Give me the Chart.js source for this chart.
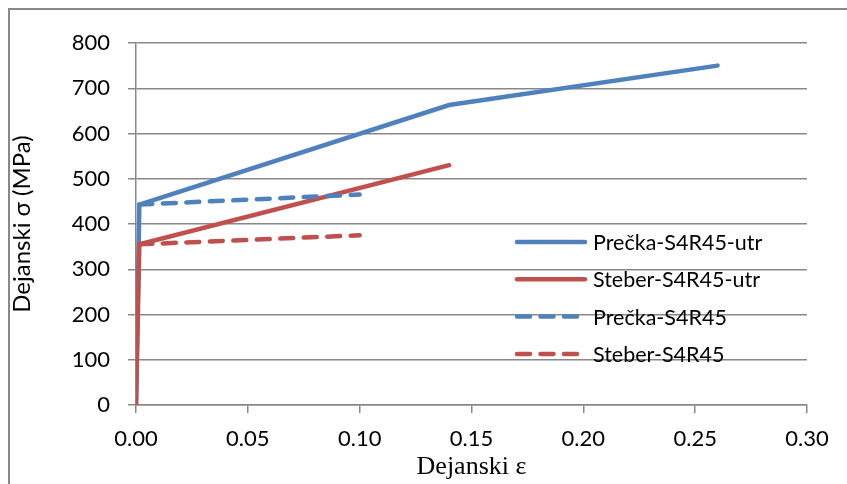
<!DOCTYPE html>
<html>
<head>
  <title>Dejanski σ - ε</title>
  <script src="https://cdn.jsdelivr.net/npm/chart.js"></script>
  <style>
    body { margin: 0; background: #fff; }
    #wrap { width: 847px; height: 484px; }
  </style>
</head>
<body>
  <div id="wrap"><canvas id="myChart" width="847" height="484"></canvas></div>

  <script>
    // podatki (strain, stress)
    const seriesNames = ['Prečka-S4R45-utr', 'Steber-S4R45-utr', 'Prečka-S4R45', 'Steber-S4R45'];
    const prečkaUtrX = [0, 0.0015, 0.14, 0.26];
    const prečkaUtrY = [0, 443, 663, 750];
    const steberUtrX = [0, 0.0015, 0.14];
    const steberUtrY = [0, 355, 530];
    const prečkaX = [0.0015, 0.10];
    const prečkaY = [443, 465];
    const steberX = [0.0015, 0.10];
    const steberY = [355, 375];
    const xTicks = [0, 0.05, 0.10, 0.15, 0.20, 0.25, 0.30];
    const yTicks = [0, 100, 200, 300, 400, 500, 600, 700, 800];

    const blue = '#4F81BD';
    const red = '#C0504D';
    const sans = 'Lato, "Open Sans", sans-serif';

    function pts(xs, ys) {
      return xs.map((x, i) => ({ x: x, y: ys[i] }));
    }

    // okvir + bela podlaga
    const frame = {
      id: 'frame',
      beforeDraw(chart) {
        const c = chart.ctx;
        c.save();
        c.fillStyle = '#fff';
        c.fillRect(0, 0, chart.width, chart.height);
        c.strokeStyle = '#888';
        c.lineWidth = 2;
        c.beginPath();
        c.moveTo(9, chart.height);
        c.lineTo(9, 9);
        c.lineTo(chart.width, 9);
        c.stroke();
        c.restore();
      }
    };

    // legenda znotraj grafa
    const innerLegend = {
      id: 'innerLegend',
      afterDraw(chart) {
        const c = chart.ctx;
        c.save();
        c.font = '21.5px ' + sans;
        c.textBaseline = 'middle';
        c.fillStyle = '#000';
        chart.data.datasets.forEach((ds, i) => {
          const y = 242 + i * 37.3;
          c.strokeStyle = ds.borderColor;
          c.lineWidth = ds.borderWidth;
          c.lineCap = 'round';
          c.setLineDash(ds.borderDash || []);
          c.beginPath();
          c.moveTo(517, y);
          c.lineTo(585, y);
          c.stroke();
          c.setLineDash([]);
          c.fillText(ds.label, 593, y + 1);
        });
        c.restore();
      }
    };

    const ctx = document.getElementById('myChart').getContext('2d');
    const myChart = new Chart(ctx, {
      type: 'line',
      data: {
        datasets: [
          { label: seriesNames[0], data: pts(prečkaUtrX, prečkaUtrY), borderColor: blue, borderWidth: 4.5, order: 3 },
          { label: seriesNames[1], data: pts(steberUtrX, steberUtrY), borderColor: red, borderWidth: 4.5, order: 2 },
          { label: seriesNames[2], data: pts(prečkaX, prečkaY), borderColor: blue, borderWidth: 4.5, borderDash: [13, 10.5], order: 1 },
          { label: seriesNames[3], data: pts(steberX, steberY), borderColor: red, borderWidth: 4.5, borderDash: [13, 10.5], order: 0 }
        ]
      },
      options: {
        responsive: false,
        animation: false,
        events: [],
        elements: {
          point: { radius: 0 },
          line: { tension: 0, borderCapStyle: 'round', borderJoinStyle: 'miter', fill: false }
        },
        layout: { padding: { left: 8, top: 43, right: 40, bottom: 0 } },
        plugins: {
          legend: { display: false },
          tooltip: { enabled: false }
        },
        scales: {
          x: {
            type: 'linear',
            min: 0,
            max: 0.3,
            afterFit(s) { s.height = 79; },
            afterBuildTicks(s) { s.ticks = xTicks.map(v => ({ value: v })); },
            ticks: {
              font: { family: sans, size: 22 },
              color: '#000',
              padding: 13,
              maxRotation: 0,
              callback: v => v.toFixed(2)
            },
            grid: { drawOnChartArea: false, drawTicks: true, tickLength: 8, color: '#888', lineWidth: 1.5 },
            border: { color: '#888', width: 1.5 },
            title: {
              display: true,
              text: 'Dejanski ε',
              font: { family: '"Liberation Serif", "Times New Roman", serif', size: 26 },
              color: '#000',
              padding: { top: 0, bottom: 1 }
            }
          },
          y: {
            type: 'linear',
            min: 0,
            max: 800,
            afterFit(s) { s.width = 128; },
            afterBuildTicks(s) { s.ticks = yTicks.map(v => ({ value: v })); },
            ticks: {
              font: { family: sans, size: 22 },
              color: '#000',
              padding: 18
            },
            grid: { drawOnChartArea: true, drawTicks: true, tickLength: 8, color: '#888', lineWidth: 1.5 },
            border: { color: '#888', width: 1.5 },
            title: {
              display: true,
              text: 'Dejanski σ (MPa)',
              font: { family: sans, size: 24 },
              color: '#000',
              padding: { top: 0, bottom: 0 }
            }
          }
        }
      },
      plugins: [frame, innerLegend]
    });
  </script>
</body>
</html>
